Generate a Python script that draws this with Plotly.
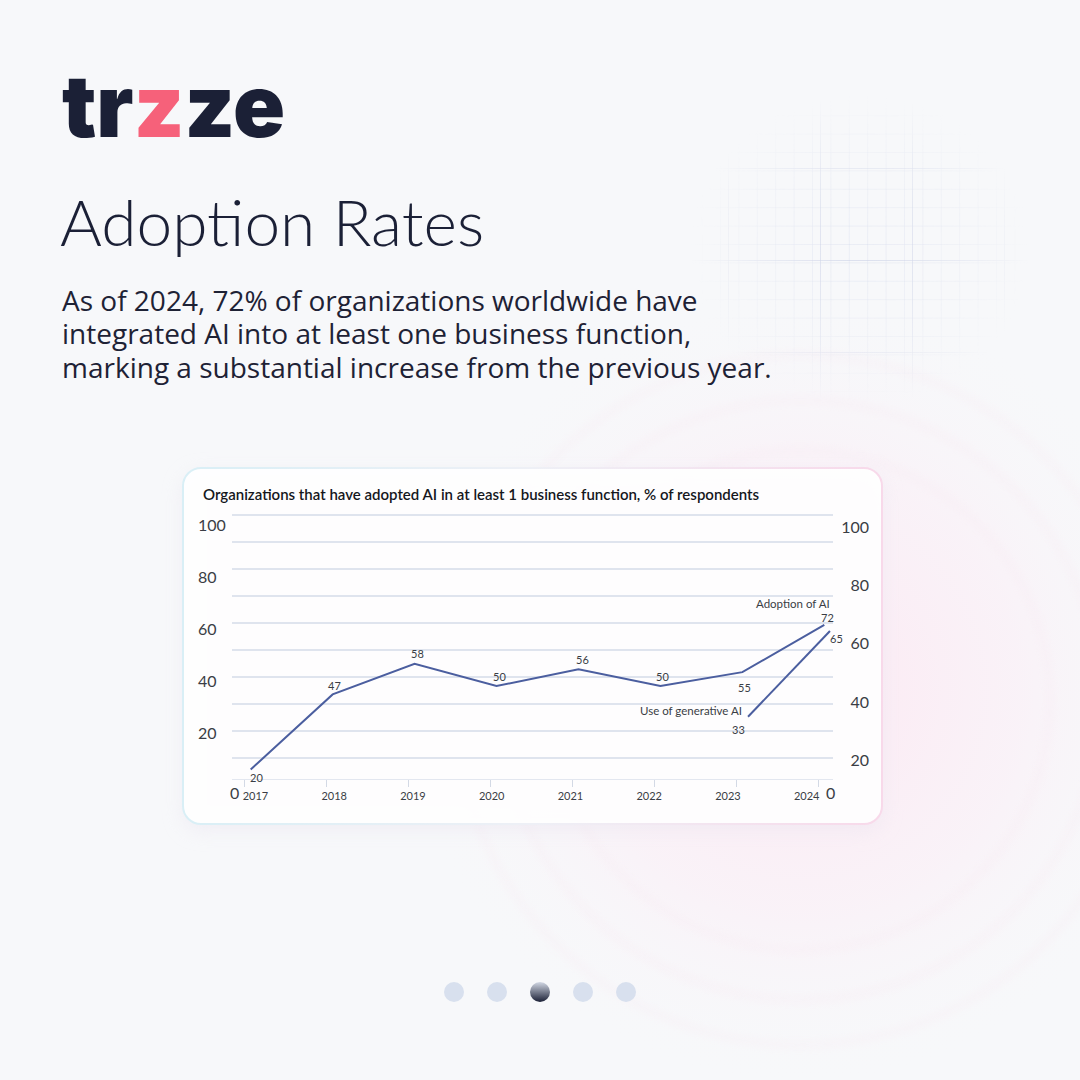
import base64
import plotly.graph_objects as go

# ---------------- data ----------------
years = [2017, 2018, 2019, 2020, 2021, 2022, 2023, 2024]
year_labels = ["2017", "2018", "2019", "2020", "2021", "2022", "2023", "2024"]
adoption = [20, 47, 58, 50, 56, 50, 55, 72]
genai_years = [2023, 2024]
genai = [33, 65]
left_ticks = [20, 40, 60, 80, 100]
right_ticks = [20, 40, 60, 80, 100]
grid_ticks = [10, 20, 30, 40, 50, 60, 70, 80, 90, 100]

# value-label offsets from their points (pixels; positive = right / up)
adoption_dx = [6, 2, 3, 3, 4, 2, 2, 3]
adoption_dy = [-8, 9, 10, 10, 10, 10, -15, 7]
genai_dx = [-10, 7]
genai_dy = [-13, -7]

body_lines = ["As of 2024, 72% of organizations worldwide have",
              "integrated AI into at least one business function,",
              "marking a substantial increase from the previous year."]

W = H = 1080


def px(x):
    return x / W


def py(y):
    return 1 - y / H


LINE = "#4b5e9f"
TXT = "#3a3d45"
DARK = "#1b2036"

# ---------------- decorative background (svg) ----------------
svg = f'''<svg xmlns="http://www.w3.org/2000/svg" width="1080" height="1080" viewBox="0 0 1080 1080">
<defs>
 <radialGradient id="glow" cx="800" cy="690" r="400" gradientUnits="userSpaceOnUse">
  <stop offset="0" stop-color="#fde6f1" stop-opacity="0.9"/>
  <stop offset="0.55" stop-color="#fbeef6" stop-opacity="0.6"/>
  <stop offset="1" stop-color="#f7f8fa" stop-opacity="0"/>
 </radialGradient>
 <pattern id="small" width="18.4" height="18.4" patternUnits="userSpaceOnUse" x="84" y="76">
  <path d="M18.4 0 L0 0 0 18.4" fill="none" stroke="#cdd3e9" stroke-width="0.6"/>
 </pattern>
 <pattern id="big" width="92" height="92" patternUnits="userSpaceOnUse" x="84" y="76">
  <rect width="92" height="92" fill="url(#small)"/>
  <path d="M92 0 L0 0 0 92" fill="none" stroke="#bcc4e0" stroke-width="1"/>
 </pattern>
 <radialGradient id="fade" cx="0.5" cy="0.5" r="0.5">
  <stop offset="0" stop-color="#fff" stop-opacity="0.95"/>
  <stop offset="0.6" stop-color="#fff" stop-opacity="0.45"/>
  <stop offset="1" stop-color="#fff" stop-opacity="0"/>
 </radialGradient>
 <mask id="gm"><rect x="690" y="95" width="340" height="310" fill="url(#fade)"/></mask>
 <filter id="blur" x="-20%" y="-20%" width="140%" height="140%"><feGaussianBlur stdDeviation="10"/></filter>
 <filter id="blur2" x="-20%" y="-20%" width="140%" height="140%"><feGaussianBlur stdDeviation="4"/></filter>
 <linearGradient id="cs" x1="0" y1="0" x2="1" y2="0">
  <stop offset="0" stop-color="#d9eff6"/>
  <stop offset="0.5" stop-color="#eef0f6"/>
  <stop offset="1" stop-color="#f8d9ea"/>
 </linearGradient>
 <linearGradient id="dot" x1="0" y1="0" x2="0" y2="1">
  <stop offset="0" stop-color="#d2d8e4"/>
  <stop offset="1" stop-color="#1b2036"/>
 </linearGradient>
</defs>
<rect width="1080" height="1080" fill="#f7f8fa"/>
<circle cx="800" cy="690" r="400" fill="url(#glow)"/>
<g fill="none" stroke="#f7e6ef" stroke-width="5" filter="url(#blur2)" opacity="0.35">
 <circle cx="800" cy="700" r="250"/>
 <circle cx="800" cy="700" r="300"/>
 <circle cx="800" cy="700" r="345"/>
</g>
<rect x="690" y="95" width="340" height="310" fill="url(#big)" mask="url(#gm)"/>
<rect x="183" y="474" width="699" height="356" rx="18" fill="#e9e4ef" opacity="0.55" filter="url(#blur)"/>
<rect x="183" y="468" width="699" height="356" rx="18" fill="#ffffff" fill-opacity="0.9" stroke="url(#cs)" stroke-width="2"/>
<circle cx="454" cy="992" r="10" fill="#d8e0ee"/>
<circle cx="497" cy="992" r="10" fill="#d8e0ee"/>
<circle cx="540" cy="992" r="10" fill="url(#dot)"/>
<circle cx="583" cy="992" r="10" fill="#d8e0ee"/>
<circle cx="626" cy="992" r="10" fill="#d8e0ee"/>
</svg>'''
svg_uri = "data:image/svg+xml;base64," + base64.b64encode(svg.encode()).decode()

# ---------------- figure ----------------
fig = go.Figure()

# empty traces so that the grid axis, the label axes and the year-label axis exist
for xa, ya in [("x", "y"), ("x", "y2"), ("x", "y4"), ("x4", "y")]:
    fig.add_trace(go.Scatter(x=[], y=[], xaxis=xa, yaxis=ya, showlegend=False,
                             hoverinfo="skip"))

fig.add_trace(go.Scatter(
    x=years, y=adoption, xaxis="x2", yaxis="y3", mode="lines",
    line=dict(color=LINE, width=2), showlegend=False, hoverinfo="skip"))
fig.add_trace(go.Scatter(
    x=genai_years, y=genai, xaxis="x3", yaxis="y5", mode="lines",
    line=dict(color=LINE, width=2), showlegend=False, hoverinfo="skip"))

x_dom = [px(232), px(833)]
y_dom = [py(779), py(513)]

fig.update_layout(
    width=W, height=H, margin=dict(l=0, r=0, t=0, b=0),
    paper_bgcolor="#f7f8fa", plot_bgcolor="rgba(0,0,0,0)",
    font=dict(family="Lato", color=TXT),
    images=[dict(source=svg_uri, xref="paper", yref="paper", x=0, y=1,
                 sizex=1, sizey=1, xanchor="left", yanchor="top",
                 sizing="stretch", layer="below")],
    # tick marks + baseline
    xaxis=dict(domain=x_dom, range=[2016.845, 2024.179], anchor="y",
               tickvals=years, showticklabels=False, showgrid=False, zeroline=False,
               showline=True, linecolor="#e3e7f0", linewidth=1,
               ticks="outside", ticklen=7, tickcolor="#d3d9e5", tickwidth=1),
    # year labels (spaced slightly tighter than the tick marks, as in the original)
    xaxis4=dict(domain=x_dom, overlaying="x", range=[2016.702, 2024.334], anchor="y",
                side="bottom", tickvals=years, ticktext=year_labels, showgrid=False,
                zeroline=False, showline=False, ticks="outside", ticklen=7,
                tickcolor="rgba(0,0,0,0)", tickfont=dict(family="Lato", size=11, color=TXT)),
    xaxis2=dict(domain=x_dom, overlaying="x", range=[2016.772, 2024.106],
                visible=False, anchor="y"),
    xaxis3=dict(domain=x_dom, overlaying="x", range=[2016.703, 2024.037],
                visible=False, anchor="y"),
    yaxis=dict(domain=y_dom, range=[2.22, 100.74], tickvals=grid_ticks, anchor="x",
               showticklabels=False, showgrid=True, gridcolor="#dfe4ee", gridwidth=2,
               zeroline=False, ticks="", showline=False),
    yaxis2=dict(domain=y_dom, overlaying="y", anchor="free", position=px(194), side="left",
                range=[2.45, 104.61], tickvals=left_ticks, ticklabelposition="inside",
                showgrid=False, zeroline=False, showline=False, ticks="",
                tickfont=dict(family="Lato", size=16, color=TXT)),
    yaxis3=dict(domain=y_dom, overlaying="y", range=[16.59, 112.21], visible=False),
    yaxis5=dict(domain=y_dom, overlaying="y", range=[9.74, 109.06], visible=False),
    yaxis4=dict(domain=y_dom, overlaying="y", anchor="free", position=px(872), side="right",
                range=[13.46, 105.06], tickvals=right_ticks, ticklabelposition="inside",
                showgrid=False, zeroline=False, showline=False, ticks="",
                tickfont=dict(family="Lato", size=16, color=TXT)),
)

annotations = [
    # logo
    dict(x=px(60), y=py(106), xref="paper", yref="paper", xanchor="left", yanchor="middle",
         text="tr<span style='color:#f6617a'>z</span>ze", showarrow=False,
         font=dict(family="Inter", size=86, color=DARK, weight=900)),
    # heading
    dict(x=px(58), y=py(222), xref="paper", yref="paper", xanchor="left", yanchor="middle",
         text="Adoption Rates", showarrow=False,
         font=dict(family="Lato", size=64, color=DARK, weight=300)),
    # chart title
    dict(x=px(201), y=py(494), xref="paper", yref="paper", xanchor="left", yanchor="middle",
         text="Organizations that have adopted AI in at least 1 business function, % of respondents",
         showarrow=False, font=dict(family="Lato", size=15, color="#15171c", weight=600)),
    # zero labels of both value axes
    dict(x=px(234), y=py(792), xref="paper", yref="paper", text="0", showarrow=False,
         xanchor="center", yanchor="middle", font=dict(family="Lato", size=16, color=TXT)),
    dict(x=px(830), y=py(792), xref="paper", yref="paper", text="0", showarrow=False,
         xanchor="center", yanchor="middle", font=dict(family="Lato", size=16, color=TXT)),
    # series labels
    dict(x=years[-1], y=adoption[-1], xref="x2", yref="y3", text="Adoption of AI",
         xanchor="right", yanchor="middle", xshift=8, yshift=21, showarrow=False,
         font=dict(family="Lato", size=11.5, color=TXT)),
    dict(x=genai_years[0], y=genai[0], xref="x3", yref="y5", text="Use of generative AI",
         xanchor="right", yanchor="middle", xshift=-4, yshift=6, showarrow=False,
         font=dict(family="Lato", size=11.5, color=TXT)),
]
# value labels
for xv, v, dx, dy in zip(years, adoption, adoption_dx, adoption_dy):
    annotations.append(dict(x=xv, y=v, xref="x2", yref="y3", text=str(v), showarrow=False,
                            xanchor="center", yanchor="middle", xshift=dx, yshift=dy,
                            font=dict(family="Lato", size=11, color=TXT)))
for xv, v, dx, dy in zip(genai_years, genai, genai_dx, genai_dy):
    annotations.append(dict(x=xv, y=v, xref="x3", yref="y5", text=str(v), showarrow=False,
                            xanchor="center", yanchor="middle", xshift=dx, yshift=dy,
                            font=dict(family="Lato", size=11, color=TXT)))
# body text, one annotation per line
for i, line in enumerate(body_lines):
    annotations.append(dict(x=px(60), y=py(300 + 33.5 * i), xref="paper", yref="paper",
                            xanchor="left", yanchor="middle", text=line, showarrow=False,
                            font=dict(family="Open Sans", size=28, color="#1e2235")))
fig.update_layout(annotations=annotations)

fig.write_html("out.html", config={"displayModeBar": False},
               post_script="document.body.style.margin='0';")
